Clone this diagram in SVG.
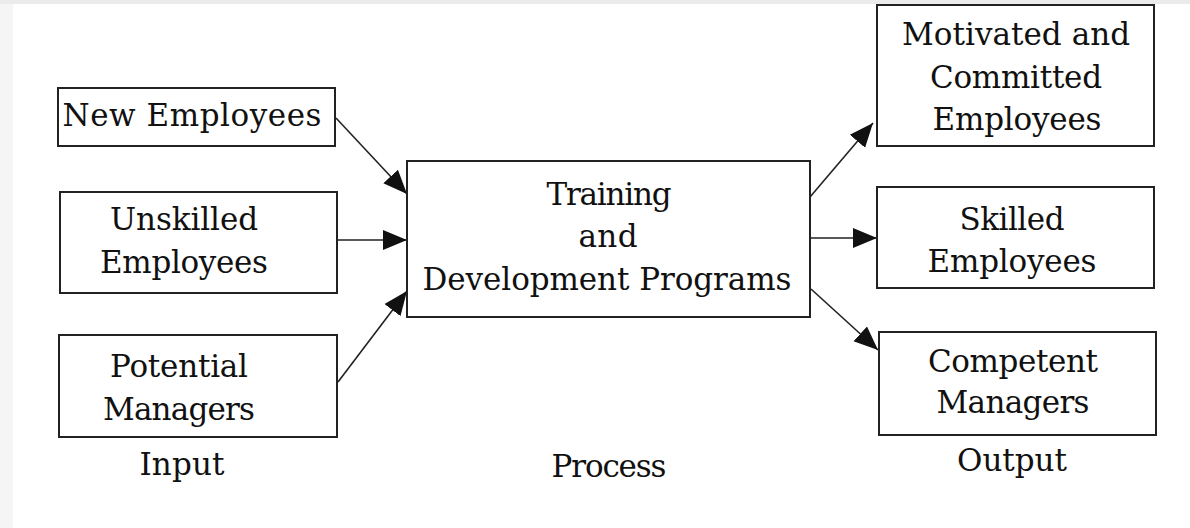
<svg xmlns="http://www.w3.org/2000/svg" width="1190" height="528" viewBox="0 0 1190 528">
<style>
.box{fill:#fff;stroke:#222;stroke-width:2}
.t{font-family:"DejaVu Serif","Liberation Serif",serif;font-size:31px;fill:#111;text-anchor:middle}
.c{stroke:#222;stroke-width:1.6;fill:none}
</style>
<defs>
<marker id="ah" markerUnits="userSpaceOnUse" markerWidth="26" markerHeight="22" viewBox="0 0 26 22" refX="24" refY="11" orient="auto">
<path d="M0,1 L24,11 L0,21 Z" fill="#111"/>
</marker>
</defs>
<rect width="1190" height="528" fill="#fff"/>
<rect x="0" y="0" width="1190" height="4" fill="#ebebeb"/>
<rect x="0" y="4" width="13" height="524" fill="#f5f5f5"/>
<g id="connectors">
<line class="c" x1="336" y1="118" x2="407" y2="194" marker-end="url(#ah)"/>
<line class="c" x1="338" y1="240" x2="407" y2="240" marker-end="url(#ah)"/>
<line class="c" x1="338" y1="382" x2="407" y2="291" marker-end="url(#ah)"/>
<line class="c" x1="810" y1="197" x2="873" y2="123" marker-end="url(#ah)"/>
<line class="c" x1="810" y1="238" x2="877" y2="238" marker-end="url(#ah)"/>
<line class="c" x1="811" y1="289" x2="878" y2="350" marker-end="url(#ah)"/>
</g>
<g id="new-employees">
<rect class="box" x="58" y="88" width="277" height="58"/>
<text class="t" x="192" y="126" textLength="259">New Employees</text>
</g>
<g id="unskilled-employees">
<rect class="box" x="60" y="192" width="277" height="101"/>
<text class="t" x="184" y="230" textLength="148">Unskilled</text>
<text class="t" x="184" y="273" textLength="168">Employees</text>
</g>
<g id="potential-managers">
<rect class="box" x="59" y="335" width="278" height="102"/>
<text class="t" x="179" y="377" textLength="138">Potential</text>
<text class="t" x="179" y="420" textLength="152">Managers</text>
</g>
<g id="training">
<rect class="box" x="407" y="161" width="403" height="156"/>
<text class="t" x="609" y="205" textLength="125">Training</text>
<text class="t" x="608" y="247" textLength="59">and</text>
<text class="t" x="607" y="290" textLength="369">Development Programs</text>
</g>
<g id="motivated">
<rect class="box" x="877" y="5" width="277" height="141"/>
<text class="t" x="1016" y="45" textLength="228">Motivated and</text>
<text class="t" x="1016" y="88" textLength="172">Committed</text>
<text class="t" x="1017" y="130" textLength="169">Employees</text>
</g>
<g id="skilled">
<rect class="box" x="877" y="187" width="277" height="101"/>
<text class="t" x="1012" y="230" textLength="105">Skilled</text>
<text class="t" x="1012" y="272" textLength="169">Employees</text>
</g>
<g id="competent">
<rect class="box" x="879" y="332" width="277" height="103"/>
<text class="t" x="1013" y="372" textLength="170">Competent</text>
<text class="t" x="1013" y="413" textLength="153">Managers</text>
</g>
<g id="labels">
<text class="t" x="182" y="475" textLength="85">Input</text>
<text class="t" x="609" y="477" textLength="115">Process</text>
<text class="t" x="1012" y="471" textLength="110">Output</text>
</g>
</svg>
